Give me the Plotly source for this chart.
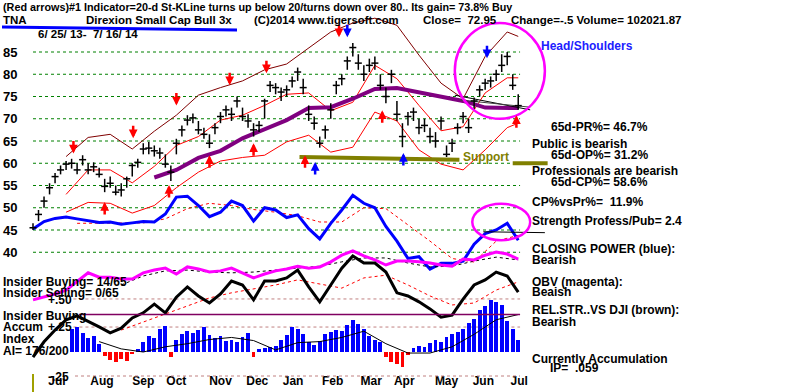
import plotly.graph_objects as go

# ---------------- data ----------------
price_days = list(range(0, 265, 3))
close_vals = [45.5, 48.5, 51.5, 54.5, 57.0, 58.5, 59.8, 60.0, 58.5, 60.8,
              58.5, 59.2, 57.5, 54.8, 55.5, 53.5, 54.0, 56.5, 59.5, 60.2,
              63.2, 63.4, 62.8, 62.3, 59.8, 58.0, 64.5, 67.5, 69.7, 70.2,
              67.5, 66.5, 64.5, 68.0, 70.5, 72.0, 71.0, 74.0, 70.5, 69.5,
              67.5, 68.5, 74.0, 77.5, 77.0, 76.0, 76.5, 78.5, 80.5, 77.0,
              71.0, 69.0, 64.5, 67.5, 72.0, 77.5, 79.0, 83.0, 86.0, 82.5,
              80.0, 82.0, 82.5, 77.5, 75.0, 80.0, 71.0, 66.0, 70.5, 71.5,
              68.0, 68.5, 66.0, 65.0, 69.5, 62.0, 64.5, 68.0, 70.5, 68.0,
              74.0, 76.5, 78.0, 78.5, 80.0, 82.0, 84.0, 77.5, 72.95]
high_vals = [46.5, 49.5, 52.5, 55.5, 57.8, 59.5, 60.5, 61.0, 60.0, 61.8,
             60.0, 60.2, 59.0, 56.5, 57.0, 55.0, 55.5, 57.0, 60.0, 61.0,
             64.5, 64.8, 64.0, 63.5, 62.0, 59.5, 65.5, 68.5, 70.8, 71.2,
             69.5, 68.0, 66.5, 69.0, 71.5, 73.0, 72.5, 75.0, 72.5, 71.0,
             69.0, 69.5, 74.5, 78.5, 78.0, 77.0, 77.5, 79.5, 81.5, 79.0,
             73.0, 70.5, 66.0, 68.5, 73.5, 78.5, 80.0, 84.0, 87.0, 84.5,
             82.0, 83.5, 84.0, 80.0, 77.0, 81.0, 74.0, 69.0, 71.5, 72.5,
             70.0, 70.0, 68.0, 67.0, 70.5, 64.0, 65.5, 69.0, 71.5, 70.0,
             74.8, 77.5, 79.0, 79.5, 81.0, 84.5, 85.0, 80.0, 75.5]
low_vals = [45.0, 47.0, 50.0, 53.0, 55.5, 57.5, 58.5, 58.8, 57.5, 59.5,
            57.5, 58.0, 56.8, 53.5, 54.5, 52.8, 52.5, 54.5, 57.0, 59.0,
            62.0, 62.0, 61.5, 61.0, 59.0, 56.0, 62.0, 66.0, 68.5, 69.0,
            66.5, 65.5, 63.4, 66.5, 69.0, 70.5, 69.5, 72.5, 69.5, 68.0,
            66.0, 67.0, 70.0, 76.0, 75.5, 74.0, 75.0, 77.0, 78.5, 75.5,
            69.5, 67.5, 63.5, 65.5, 70.0, 75.5, 77.5, 81.0, 84.0, 81.0,
            78.5, 80.5, 81.0, 76.5, 73.5, 78.0, 69.5, 63.6, 68.5, 69.5,
            66.5, 67.0, 64.5, 63.5, 67.5, 61.4, 62.5, 66.5, 69.0, 66.8,
            72.0, 75.0, 76.5, 77.0, 78.5, 80.5, 82.0, 76.5, 72.0]
accum_vals = [None, None, None, None, None, None, None, 0.22, 0.24, 0.18,
              0.13, 0.15, 0.08, -0.04, -0.08, -0.10, -0.07, -0.09, -0.02, 0.03,
              0.10, 0.15, 0.13, 0.22, 0.25, -0.05, 0.12, 0.17, 0.20, 0.18,
              0.21, 0.24, 0.16, 0.13, 0.15, 0.11, 0.12, 0.10, 0.14, 0.18,
              -0.05, 0.03, 0.04, 0.05, 0.06, 0.12, 0.16, 0.24, 0.22, 0.17,
              0.10, 0.07, 0.11, 0.17, 0.19, 0.21, 0.20, 0.26, 0.31, 0.27,
              0.22, 0.15, 0.12, 0.10, -0.05, -0.10, -0.12, -0.14, -0.03, 0.04,
              0.06, 0.05, 0.09, 0.12, 0.10, 0.14, 0.17, 0.19, 0.22, 0.28,
              0.32, 0.40, 0.44, 0.50, 0.48, 0.45, 0.30, 0.22, 0.12]

line_days = list(range(0, 265, 6))
cp_vals = [45.2, 46.9, 47.6, 47.9, 47.5, 47.1, 46.7, 46.8, 46.3, 46.6,
           46.9, 46.8, 48.6, 52.4, 52.6, 50.5, 48.0, 49.0, 51.5, 50.5,
           47.0, 50.0, 49.5, 47.8, 48.4, 45.3, 43.0, 46.5, 49.5, 52.8,
           51.0, 50.0, 45.8, 42.5, 38.6, 39.0, 36.2, 37.5, 37.5, 38.0,
           41.8, 44.2, 45.0, 46.5, 42.7]
obv_vals = [23.5, 24.2, 25.0, 26.0, 28.1, 30.4, 29.3, 29.3, 28.8, 28.8,
            30.4, 31.1, 31.6, 30.1, 31.9, 31.4, 30.6, 30.9, 31.6, 30.4,
            29.1, 30.1, 30.9, 31.4, 32.1, 31.6, 31.9, 33.2, 34.9, 36.0,
            34.7, 33.7, 32.4, 33.4, 33.4, 33.2, 32.9, 32.4, 32.1, 33.9,
            33.7, 34.9, 35.7, 35.2, 33.9]
relstr_vals = [8.9, 12.8, 15.8, 18.4, 19.4, 18.1, 16.6, 15.1, 16.3, 18.9,
               20.2, 22.4, 20.2, 24.2, 26.8, 24.5, 22.7, 25.0, 28.3, 27.3,
               23.5, 28.3, 28.3, 29.1, 31.1, 26.8, 23.0, 27.3, 31.6, 34.7,
               32.9, 32.9, 30.6, 25.3, 24.5, 23.0, 21.2, 19.1, 19.6, 23.7,
               27.3, 28.6, 30.6, 29.6, 25.5]

ma_days = list(range(48, 265, 12))
obv_ma_vals = [27.3, 29.6, 30.9, 31.1, 30.6, 30.4, 30.6, 31.1, 31.6, 32.1,
               33.2, 34.2, 34.2, 32.9, 31.9, 32.1, 33.4, 34.4, 33.7]
relstr_ma_vals = [15.8, 17.9, 19.9, 21.9, 24.0, 25.3, 26.3, 27.3, 28.6, 27.6,
                  26.5, 29.1, 29.8, 27.3, 24.5, 22.2, 22.7, 26.0, 28.1]
cp_ma_days = list(range(24, 265, 12))
cp_ma_vals = [46.5, 46.5, 46.5, 46.6, 47.5, 49.8, 51.0, 50.5, 49.6, 49.0,
              48.2, 46.8, 46.8, 50.0, 49.8, 46.2, 42.5, 38.6, 37.8, 42.5, 43.8]
accum_ma_days = list(range(36, 265, 12))
accum_ma_vals = [0.10, 0.03, 0.0, 0.05, 0.08, 0.12, 0.14, 0.11, 0.02, 0.09,
                 0.10, 0.14, 0.20, 0.08, -0.01, -0.01, 0.05, 0.17, 0.31, 0.36]

band_days = list(range(18, 259, 12)) + [264]
upper_band = [61.5, 65.8, 66.5, 63.2, 67.2, 70.8, 75.3, 77.0, 78.5, 81.0, 82.3,
              86.0, 89.5, 91.5, 92.6, 91.0, 84.3, 78.0, 74.5, 84.0, 89.5, 88.5]
inner_band = [53.0, 58.5, 58.5, 55.6, 59.3, 64.0, 66.0, 69.7, 70.8, 73.0, 75.5,
              75.8, 71.8, 73.7, 82.0, 79.0, 73.0, 67.3, 68.2, 75.8, 79.2, 79.2]
lower_band = [49.0, 51.2, 51.0, 48.8, 50.5, 54.5, 58.0, 60.5, 61.3, 61.8, 64.8,
              66.3, 62.5, 63.6, 71.5, 69.5, 63.0, 59.8, 58.5, 63.0, 68.0, 69.0]
ma65_days = list(range(66, 259, 12)) + [264]
ma65_vals = [56.8, 58.5, 61.2, 62.8, 65.6, 67.6, 69.7, 72.4, 72.6, 74.5, 76.7,
             76.9, 76.0, 75.1, 74.0, 72.5, 72.4, 72.4]

support_days = [145, 232]
support_vals = [61.4, 60.8]
support2_days = [261, 280]
support2_vals = [60.0, 60.0]
neck1_days = [229.5, 270.5]
neck1_vals = [75.3, 72.0]
neck2_days = [232.5, 270.5]
neck2_vals = [74.2, 72.6]
cpline_days = [245, 278.5]
cpline_vals = [44.6, 44.4]
insider_line_days = [25, 265]
insider_line_vals = [0.36, 0.36]

# arrow tips (price units)
down_red_days = [22, 54.5, 78, 107, 127, 166.5]
down_red_vals = [62.2, 65.6, 73.0, 77.5, 80.2, 88.3]
down_blue_days = [171, 247]
down_blue_vals = [88.3, 83.6]
up_red_days = [39, 74, 96, 120, 148, 190, 263]
up_red_vals = [51.3, 55.1, 61.8, 64.5, 61.8, 71.9, 70.8]
up_blue_days = [153.5, 201.5]
up_blue_vals = [60.3, 62.3]

price_ticks = [85, 80, 75, 70, 65, 60, 55, 50, 45, 40]
month_ticks = [13, 37.5, 60, 78, 102, 122, 141.5, 163, 184, 202, 225, 245, 264.5]
month_labels = ["Jul", "Aug", "Sep", "Oct", "Nov", "Dec", "Jan", "Feb", "Mar",
                "Apr", "May", "Jun", "Jul"]
accum_levels = [0.51, 0.24]

# ---------------- figure ----------------
FONT = "Liberation Sans"
PLOT_H = 372.0


def py(p):
    return (PLOT_H - p) / PLOT_H


fig = go.Figure()


def line(x, y, color, width, dash=None, axis="y"):
    fig.add_trace(go.Scatter(x=x, y=y, mode="lines", yaxis=axis,
                             line=dict(color=color, width=width, dash=dash),
                             hoverinfo="skip", showlegend=False))


# accumulation bars
bar_colors = ["#0000ff" if (v is not None and v >= 0) else "#ff0000" for v in accum_vals]
fig.add_trace(go.Bar(x=price_days, y=accum_vals, yaxis="y3", width=2.1,
                     marker=dict(color=bar_colors, line=dict(width=0)),
                     hoverinfo="skip", showlegend=False))
line(accum_ma_days, accum_ma_vals, "black", 1, axis="y3")
line(insider_line_days, insider_line_vals, "#800060", 1.5, axis="y3")

# OBV / rel strength panel
line(ma_days, obv_ma_vals, "black", 1, "dot", "y2")
line(ma_days, relstr_ma_vals, "#ff0000", 1, "dot", "y2")
line(line_days, obv_vals, "#ff00ff", 3, axis="y2")
line(line_days, relstr_vals, "black", 3, axis="y2")

# closing power
line(cp_ma_days, cp_ma_vals, "#ff0000", 1, "dot")
line(line_days, cp_vals, "#0000ff", 3)
line(cpline_days, cpline_vals, "black", 1)

# bands
line(band_days, upper_band, "#800000", 1)
line(band_days, inner_band, "#ff0000", 1)
line(band_days, lower_band, "#ff0000", 1)
line(ma65_days, ma65_vals, "#800080", 4)
line(support_days, support_vals, "#808000", 4)
line(support2_days, support2_vals, "#808000", 4)
line(neck1_days, neck1_vals, "black", 1)
line(neck2_days, neck2_vals, "#404040", 1)

# price bars
seg_x, seg_y = [], []
for d, h, l in zip(price_days, high_vals, low_vals):
    seg_x += [d, d, None]
    seg_y += [l, h, None]
line(seg_x, seg_y, "black", 1.5)
fig.add_trace(go.Scatter(x=price_days, y=close_vals, mode="markers",
                         marker=dict(symbol="line-ew", size=5,
                                     line=dict(color="black", width=1.5)),
                         hoverinfo="skip", showlegend=False))

shapes = []
for lv in price_ticks:
    shapes.append(dict(type="line", xref="x", yref="y", x0=0, x1=265, y0=lv, y1=lv,
                       line=dict(color="#008000", width=1, dash="dot"), layer="below"))
for lv in accum_levels:
    shapes.append(dict(type="line", xref="x", yref="y3", x0=22, x1=265, y0=lv, y1=lv,
                       line=dict(color="#c08080", width=1, dash="dot"), layer="below"))
shapes.append(dict(type="line", xref="paper", yref="paper", x0=75 / 800, x1=520 / 800,
                   y0=py(376), y1=py(376), line=dict(color="#c08080", width=1, dash="dot")))
shapes.append(dict(type="line", xref="paper", yref="paper", x0=33 / 800, x1=33 / 800,
                   y0=py(374), y1=py(392), line=dict(color="#a0a000", width=2)))
shapes.append(dict(type="line", xref="paper", yref="paper", x0=2 / 800, x1=237 / 800,
                   y0=py(27), y1=py(30), line=dict(color="#0000ff", width=3)))
shapes.append(dict(type="circle", xref="x", yref="y", x0=229.5, x1=278.5, y0=70.0, y1=91.5,
                   line=dict(color="#ff00ff", width=2.5)))
shapes.append(dict(type="circle", xref="x", yref="y", x0=239, x1=270.5, y0=42.7, y1=50.9,
                   line=dict(color="#ff00ff", width=2.5)))

ann = []

# arrows as annotation arrows
for xs, ys, direction, col in [(down_red_days, down_red_vals, -1, "#ff0000"),
                               (down_blue_days, down_blue_vals, -1, "#0000ff"),
                               (up_red_days, up_red_vals, 1, "#ff0000"),
                               (up_blue_days, up_blue_vals, 1, "#0000ff")]:
    for xv, yv in zip(xs, ys):
        ann.append(dict(x=xv, y=yv, xref="x", yref="y", text="", showarrow=True,
                        ax=0, ay=14 * direction, arrowhead=2, arrowsize=0.7,
                        arrowwidth=2.5, arrowcolor=col))


def txt(x, y, s, color="black", size=12):
    ann.append(dict(x=x / 800, y=py(y), xref="paper", yref="paper", text=s,
                    showarrow=False, xanchor="left", yanchor="middle",
                    font=dict(family=FONT, size=size, color=color, weight="bold")))


NB = "\u00a0"
txt(1, 7.5, "(Red arrows)#1 Indicator=20-d St-KLine turns up below 20/turns down over 80.. Its gain= 73.8% Buy", size=10.8)
txt(1, 20.5, "TNA", size=11.5)
txt(84, 20.5, "Direxion Small Cap Bull 3x", size=11.5)
txt(252, 20.5, "(C)2014 www.tigersoft.com", size=11.3)
txt(421, 20.5, "Close=" + NB + NB + "72.95", size=11.5)
txt(509, 20.5, "Change=-.5 Volume= 102021.87", size=11.5)
txt(36, 34, "6/ 25/ 13-" + NB + NB + "7/ 16/ 14", size=11.5)

txt(539, 46, "Head/Shoulders", color="#2020ff")
txt(549, 127, "65d-PR%= 46.7%")
txt(530, 144, "Public is bearish")
txt(549, 155, "65d-OP%= 31.2%")
txt(530, 171, "Professionals are bearish")
txt(549, 182, "65d-CP%= 58.6%")
txt(530, 202, "CP%vsPr%=" + NB + NB + "11.9%")
txt(530, 221, "Strength Profess/Pub= 2.4")
txt(530, 249, "CLOSING POWER (blue):")
txt(530, 260, "Bearish")
txt(530, 282, "OBV (magenta):")
txt(530, 292, "Beaish")
txt(530, 310, "REL.STR..VS DJI (brown):")
txt(530, 322, "Bearish")
txt(530, 359, "Currently Accumulation")
txt(548, 368, "IP=" + NB + NB + ".059")
txt(461, 157.5, "Support", color="#808000")

txt(1, 282, "Insider Buying= 14/65")
txt(1, 293, "Insider Selling= 0/65")
txt(46, 300, "+.50")
txt(1, 316, "Insider Buying")
txt(1, 327, "Accum")
txt(46, 327, "+.25")
txt(1, 339, "Index")
txt(1, 351, "AI= 176/200")
txt(46, 377, "-.25")

fig.update_layout(
    width=800, height=392,
    margin=dict(l=0, r=0, t=0, b=20),
    paper_bgcolor="white", plot_bgcolor="white",
    showlegend=False, bargap=0,
    shapes=shapes, annotations=ann,
    xaxis=dict(range=[-17.954, 417.3], showgrid=False, zeroline=False, showline=False,
               tickvals=month_ticks, ticktext=month_labels, ticks="",
               tickfont=dict(family=FONT, size=12, color="black", weight="bold")),
    yaxis=dict(range=[13.09, 96.685], showgrid=False, zeroline=False, showline=False,
               tickvals=price_ticks, ticks="", ticklabelposition="inside",
               tickfont=dict(family=FONT, size=13, color="black", weight="bold")),
    yaxis2=dict(range=[5.102, 100], overlaying="y", visible=False),
    yaxis3=dict(range=[-0.1923, 3.3846], overlaying="y", visible=False),
)

fig.write_html("out.html", config={"displayModeBar": False},
               post_script="document.body.style.margin='0';")
